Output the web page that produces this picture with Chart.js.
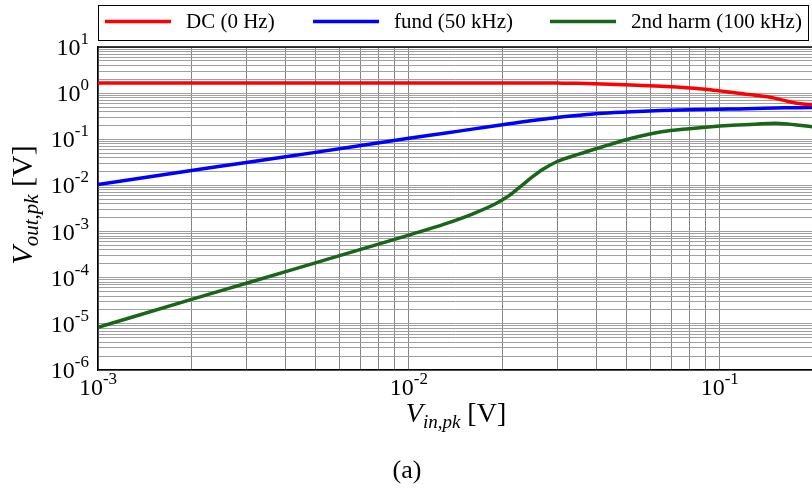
<!DOCTYPE html>
<html>
<head>
<meta charset="utf-8">
<script src="https://cdn.jsdelivr.net/npm/chart.js@4.4.0/dist/chart.umd.min.js"></script>
<style>
  html, body { margin: 0; padding: 0; background: #fff; }
  canvas { display: block; }
</style>
</head>
<body>
<canvas id="chart" width="812" height="490"></canvas>
<script>
// input amplitude (V)
const vin = [0.001, 0.002, 0.003, 0.005, 0.007, 0.01, 0.013, 0.016, 0.019, 0.021, 0.023, 0.025, 0.027,
  0.03, 0.035, 0.042, 0.052, 0.065, 0.08, 0.09, 0.1, 0.115, 0.13, 0.15, 0.165, 0.18, 0.2];

// output amplitudes (V)
const dcOut = [1.66, 1.66, 1.66, 1.66, 1.66, 1.66, 1.66, 1.66, 1.66, 1.66, 1.66, 1.66, 1.66,
  1.65, 1.63, 1.58, 1.5, 1.41, 1.3, 1.22, 1.12, 0.99, 0.9, 0.78, 0.67, 0.595, 0.56];
const fundOut = [0.0105, 0.021, 0.0315, 0.052, 0.073, 0.105, 0.135, 0.166, 0.196, 0.216, 0.236, 0.255, 0.272,
  0.298, 0.33, 0.366, 0.395, 0.418, 0.435, 0.443, 0.45, 0.456, 0.465, 0.478, 0.482, 0.485, 0.487];
const harm2Out = [8.4e-6, 3.4e-5, 7.6e-5, 2.1e-4, 4.1e-4, 8.4e-4, 1.45e-3, 2.4e-3, 4.0e-3, 6.0e-3, 9.8e-3, 0.0155, 0.0225,
  0.033, 0.047, 0.069, 0.105, 0.145, 0.17, 0.183, 0.193, 0.204, 0.213, 0.222, 0.215, 0.202, 0.185];

const seriesNames = ['DC (0 Hz)', 'fund (50 kHz)', '2nd harm (100 kHz)'];
const seriesColors = ['#ff0000', '#0000ff', '#186618'];

// grid positions and labelled decades
const mantissas = [1, 2, 3, 4, 5, 6, 7, 8, 9];
const xDecades = [-3, -2, -1];
const yDecades = [-6, -5, -4, -3, -2, -1, 0];
const xLabelExps = [-3, -2, -1];
const yLabelExps = [1, 0, -1, -2, -3, -4, -5, -6];

const xGrid = [];
xDecades.forEach(e => mantissas.forEach(m => xGrid.push(m * Math.pow(10, e))));
const yGrid = [];
yDecades.forEach(e => mantissas.forEach(m => yGrid.push(m * Math.pow(10, e))));
yGrid.push(10);

const SERIF = '"Liberation Serif", "DejaVu Serif", serif';

function toPoints(ys) {
  return vin.map((x, i) => ({ x, y: ys[i] }));
}

function drawPow(ctx, exp, x, baseline, align) {
  ctx.font = '24px ' + SERIF;
  const wb = ctx.measureText('10').width;
  ctx.font = '17px ' + SERIF;
  const we = ctx.measureText(String(exp)).width;
  let start = align === 'right' ? x - wb - we : x - (wb + we) / 2;
  ctx.textAlign = 'left';
  ctx.textBaseline = 'alphabetic';
  ctx.font = '24px ' + SERIF;
  ctx.fillText('10', start, baseline);
  ctx.font = '17px ' + SERIF;
  ctx.fillText(String(exp), start + wb, baseline - 11);
}

function drawVLabel(ctx, sub, cx, baseline, big, small) {
  const parts = [
    { t: 'V', f: 'italic ' + big + 'px ' + SERIF, dy: 0 },
    { t: sub, f: 'italic ' + small + 'px ' + SERIF, dy: 6 },
    { t: ' [V]', f: big + 'px ' + SERIF, dy: 0 }
  ];
  let total = 0;
  parts.forEach(p => { ctx.font = p.f; p.w = ctx.measureText(p.t).width; total += p.w; });
  let x = cx - total / 2;
  ctx.textAlign = 'left';
  ctx.textBaseline = 'alphabetic';
  parts.forEach(p => { ctx.font = p.f; ctx.fillText(p.t, x, baseline + p.dy); x += p.w; });
}

const decor = {
  id: 'decor',
  afterDraw(chart) {
    const { ctx, chartArea: a } = chart;
    const xs = chart.scales.x, ys = chart.scales.y;
    ctx.save();
    ctx.fillStyle = '#000';

    // top frame line
    ctx.strokeStyle = '#000';
    ctx.lineWidth = 1.5;
    ctx.beginPath();
    ctx.moveTo(a.left, a.top);
    ctx.lineTo(a.right, a.top);
    ctx.stroke();

    // tick labels
    xLabelExps.forEach(e => drawPow(ctx, e, xs.getPixelForValue(Math.pow(10, e)), 395, 'center'));
    yLabelExps.forEach(e => drawPow(ctx, e, 89, ys.getPixelForValue(Math.pow(10, e)) + 8, 'right'));

    // axis titles
    drawVLabel(ctx, 'in,pk', 456, 422, 28, 19);
    ctx.save();
    ctx.translate(32, 205);
    ctx.rotate(-Math.PI / 2);
    drawVLabel(ctx, 'out,pk', 0, 0, 30, 21);
    ctx.restore();

    // legend
    ctx.strokeStyle = '#000';
    ctx.lineWidth = 1;
    ctx.strokeRect(98.5, 5.5, 710, 35);
    const lx = [105, 313, 550];
    chart.data.datasets.forEach((ds, i) => {
      ctx.strokeStyle = ds.borderColor;
      ctx.lineWidth = 3.5;
      ctx.beginPath();
      ctx.moveTo(lx[i], 21.5);
      ctx.lineTo(lx[i] + 66, 21.5);
      ctx.stroke();
      ctx.font = '21px ' + SERIF;
      ctx.textAlign = 'left';
      ctx.textBaseline = 'alphabetic';
      ctx.fillText(ds.label, lx[i] + 81, 28);
    });

    // caption
    ctx.font = '26px ' + SERIF;
    ctx.textAlign = 'center';
    ctx.fillText('(a)', 407, 478);
    ctx.restore();
  }
};

const ctx = document.getElementById('chart').getContext('2d');
new Chart(ctx, {
  type: 'scatter',
  data: {
    datasets: [dcOut, fundOut, harm2Out].map((ys, i) => ({
      label: seriesNames[i],
      data: toPoints(ys),
      showLine: true,
      borderColor: seriesColors[i],
      backgroundColor: seriesColors[i],
      borderWidth: 3.5,
      pointRadius: 0,
      cubicInterpolationMode: 'monotone'
    }))
  },
  options: {
    responsive: false,
    animation: false,
    layout: { padding: { left: 98, right: 0, top: 47, bottom: 120 } },
    plugins: {
      legend: { display: false },
      tooltip: { enabled: false }
    },
    scales: {
      x: {
        type: 'logarithmic',
        min: 0.001,
        max: 0.198,
        afterBuildTicks: s => { s.ticks = xGrid.map(v => ({ value: v })); },
        ticks: { display: false },
        grid: { color: '#858585', lineWidth: 1, drawTicks: false },
        border: { display: true, color: '#000', width: 1.5 }
      },
      y: {
        type: 'logarithmic',
        min: 1e-6,
        max: 10,
        afterBuildTicks: s => { s.ticks = yGrid.map(v => ({ value: v })); },
        ticks: { display: false },
        grid: { color: '#a0a0a0', lineWidth: 1, drawTicks: false },
        border: { display: true, color: '#000', width: 1.5 }
      }
    }
  },
  plugins: [decor]
});
</script>
</body>
</html>
